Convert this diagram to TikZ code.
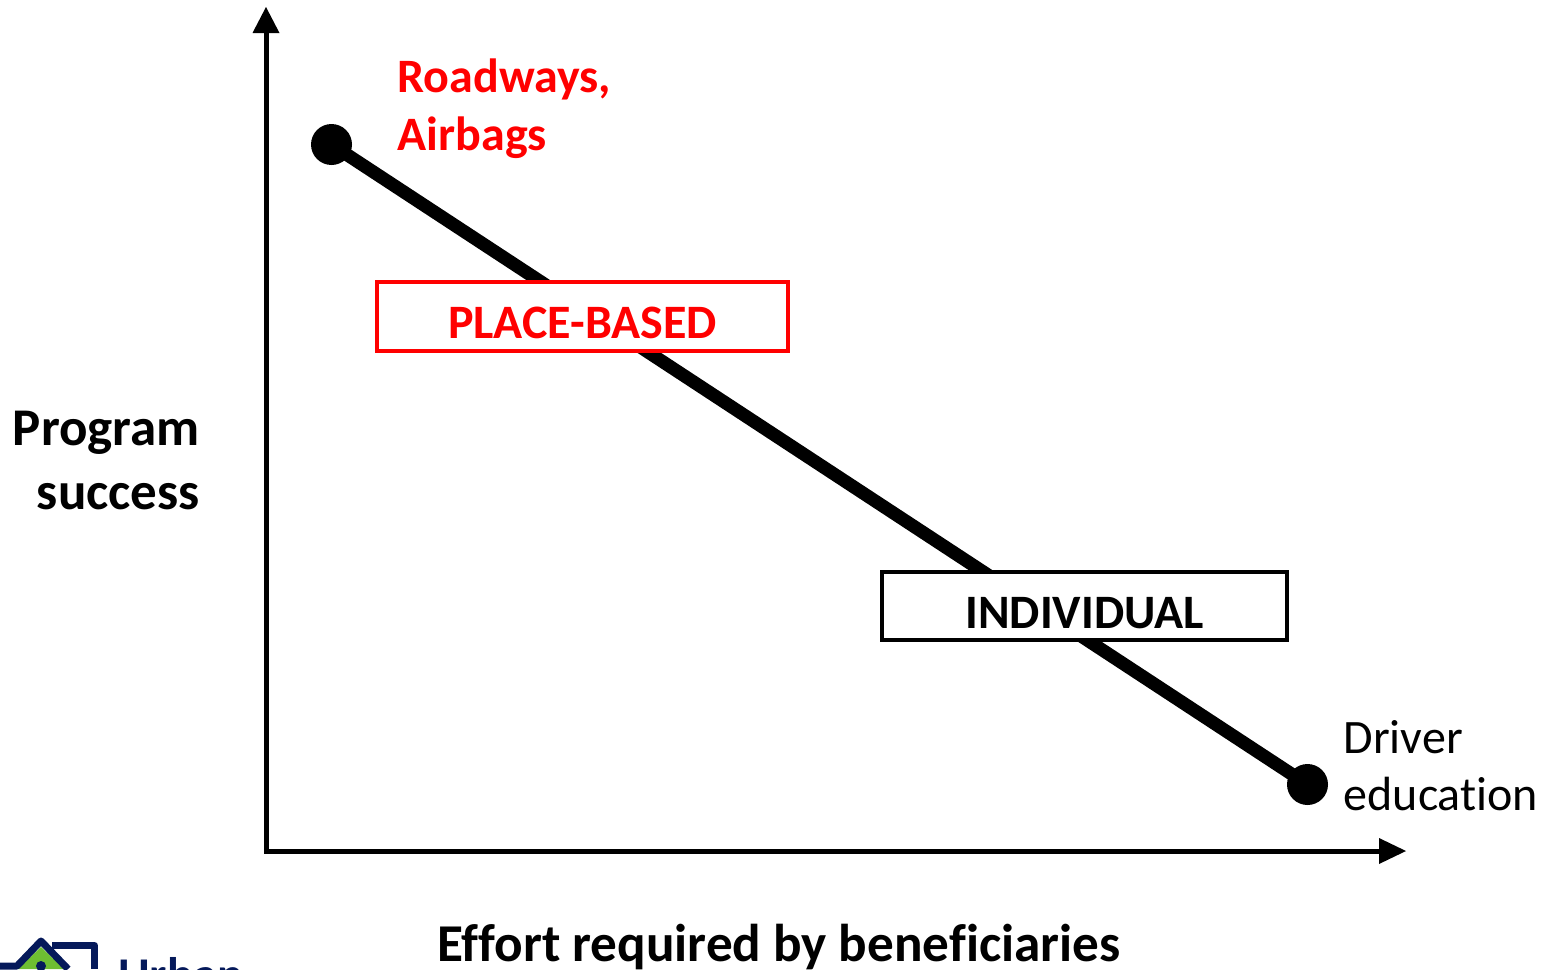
\documentclass[tikz,border=0pt]{standalone}
\usepackage{fontspec}
\setmainfont[Ligatures=NoCommon]{Carlito}
\definecolor{navy}{RGB}{5,25,90}
\definecolor{leaf}{RGB}{110,190,50}
\tikzset{
  x=1pt,y=-1pt,
  axisline/.style={line width=5pt,draw=black},
  tip/.style={fill=black,draw=none},
  trend/.style={line width=13pt,draw=black},
  dot/.style={circle,fill=black,inner sep=0pt,minimum size=41pt},
  tagbox/.style={rectangle,fill=white,line width=4.5pt,inner sep=0pt},
  boldlabel/.style={font=\bfseries\fontsize{48}{48}\selectfont,inner sep=0pt,anchor=base},
  redtext/.style={text=red,font=\bfseries\fontsize{48}{58}\selectfont,align=left,inner sep=0pt},
  plaintext/.style={text=black,font=\fontsize{48}{57}\selectfont,align=left,inner sep=0pt},
}
\begin{document}
\begin{tikzpicture}
\useasboundingbox (0,0) rectangle (1547,969);
\clip (0,0) rectangle (1547,969);
% axes
\coordinate (origin) at (266,851);
\coordinate (ytop) at (266,30);
\coordinate (xend) at (1380,851);
\draw[axisline] (ytop) -- (origin) -- (xend);
\fill[tip] (266,7) -- (279.5,33) -- (252.5,33) -- cycle;
\fill[tip] (1406,851) -- (1379,838) -- (1379,864) -- cycle;
% trend
\node[dot] (start) at (331.5,144.5) {};
\node[dot] (end) at (1307.5,784.5) {};
\draw[trend] (start.center) -- (end.center);
% boxes
\node[tagbox,draw=red,minimum width=411pt,minimum height=69pt] (place) at (582.5,316.5) {};
\node[boldlabel,text=red] (placetext) at (582.5,338) {PLACE-BASED};
\node[tagbox,draw=black,minimum width=405pt,minimum height=68pt] (indiv) at (1084.5,606) {};
\node[boldlabel,text=black] (indivtext) at (1084.5,628) {INDIVIDUAL};
% labels
\node[redtext,anchor=north west] (road) at (397.5,59) {Roadways,\\Airbags};
\node[plaintext,anchor=north west] (driver) at (1343.5,720) {Driver\\education};
\node[font=\bfseries\fontsize{53}{64}\selectfont,align=right,inner sep=0pt,anchor=north east] (prog) at (200,411) {Program\\success};
\node[font=\bfseries\fontsize{53.2}{53.2}\selectfont,inner sep=0pt,anchor=base west] (effort) at (437,961) {Effort required by beneficiaries};
% logo, cut off by the page edge
\fill[leaf] (41,947) -- (64,969) -- (18,969) -- cycle;
\draw[navy,line width=7pt,line join=round] (0,966) -- (17,966) -- (41,941) -- (68,969);
\draw[navy,line width=7pt,line join=round] (52,945.5) -- (94.5,945.5) -- (94.5,969);
\fill[navy] (41,966) circle (5);
\node[text=navy,font=\bfseries\fontsize{48.5}{48.5}\selectfont,inner sep=0pt,anchor=base west] (urban) at (118,991) {Urban};
\end{tikzpicture}
\end{document}
